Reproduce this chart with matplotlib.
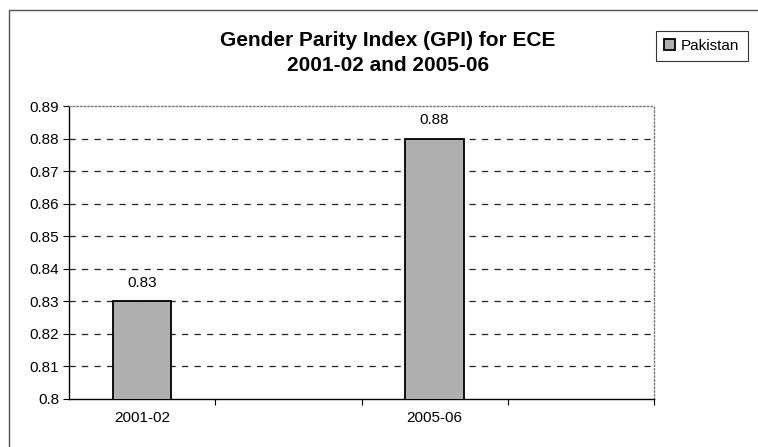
import matplotlib
matplotlib.use("Agg")
import matplotlib.pyplot as plt
from matplotlib.patches import Rectangle
import numpy as np

categories = ["2001-02", "", "2005-06", ""]
gpi_values = [0.83, np.nan, 0.88, np.nan]
series_name = "Pakistan"
y_ticks = [0.80, 0.81, 0.82, 0.83, 0.84, 0.85, 0.86, 0.87, 0.88, 0.89]
y_tick_labels = ["0.8", "0.81", "0.82", "0.83", "0.84", "0.85", "0.86", "0.87", "0.88", "0.89"]
title_text = "Gender Parity Index (GPI) for ECE\n2001-02 and 2005-06"

plt.rcParams['font.family'] = ['Liberation Sans', 'DejaVu Sans']

fig = plt.figure(figsize=(7.58, 4.47), dpi=100)
ax = fig.add_axes([69/758, 1-399/447, 585/758, 293/447])

x = np.arange(len(categories))
bars = ax.bar(x, gpi_values, width=0.4, color="#afafaf", edgecolor="black",
              linewidth=1.3, zorder=3, label=series_name)

for xi, v in zip(x, gpi_values):
    if not np.isnan(v):
        ax.annotate(f"{v:.2f}", (xi, v), xytext=(0, 8), textcoords="offset points",
                    ha="center", va="bottom", fontsize=11)

ax.set_ylim(0.80, 0.89)
ax.set_xlim(-0.5, len(categories) - 0.5)
ax.set_yticks(y_ticks)
ax.set_yticklabels(y_tick_labels, fontsize=11)

# category labels at centers, tick marks at boundaries
ax.set_xticks(x)
ax.set_xticklabels(categories, fontsize=11)
ax.tick_params(axis="x", length=0, pad=9)
ax.set_xticks(np.arange(len(categories)) + 0.5, minor=True)
ax.tick_params(axis="x", which="minor", length=4, width=0.8, direction="out")
ax.tick_params(axis="y", length=4, width=0.8, direction="out", pad=3)

for yt in y_ticks[1:-1]:
    ax.axhline(yt, color="#222222", linestyle=(0, (5, 5)), linewidth=0.9, zorder=1)

for side in ["top", "right"]:
    ax.spines[side].set_color("#777777")
    ax.spines[side].set_linestyle(":")
    ax.spines[side].set_linewidth(1.0)
for side in ["left", "bottom"]:
    ax.spines[side].set_color("black")
    ax.spines[side].set_linewidth(1.0)

fig.text(388/758, 1-53/447, title_text, ha="center", va="center",
         fontsize=15, fontweight="bold", linespacing=1.4)

leg = fig.legend(handles=[bars], labels=[series_name], loc="center",
                 bbox_to_anchor=(702/758, 1-46/447), fontsize=11,
                 frameon=True, fancybox=False, edgecolor="black",
                 handlelength=0.7, handleheight=0.7, handletextpad=0.4,
                 borderpad=0.55)
leg.get_frame().set_linewidth(0.8)

# outer chart frame
fig.patches.append(Rectangle((9/758, -0.05), 1.1, 1 - 10/447 + 0.05,
                             transform=fig.transFigure, fill=False,
                             edgecolor="#555555", linewidth=1.0))

fig.savefig("out.png", dpi=100)
